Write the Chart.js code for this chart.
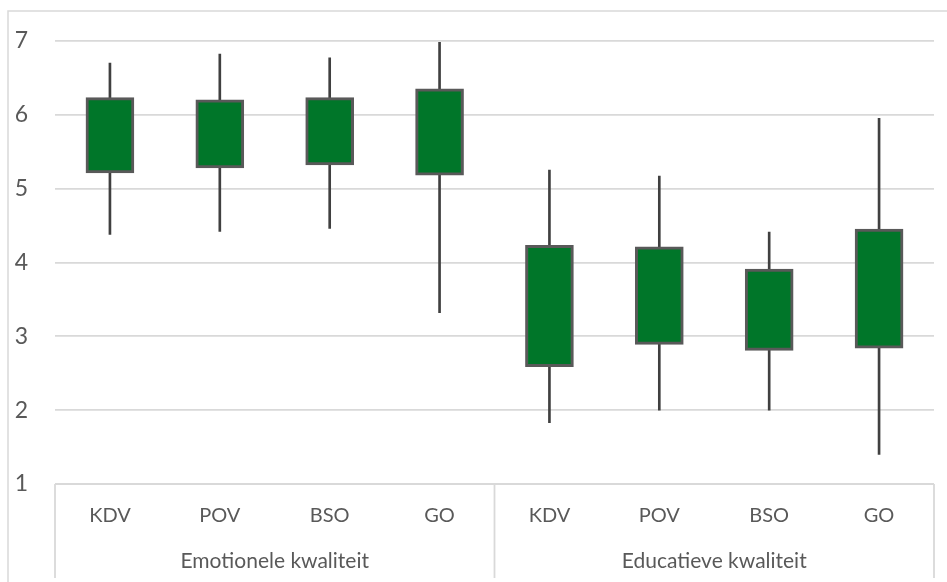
<!DOCTYPE html>
<html>
<head>
<meta charset="utf-8">
<script src="https://cdn.jsdelivr.net/npm/chart.js@4.4.0/dist/chart.umd.min.js"></script>
<style>
  html, body { margin: 0; padding: 0; background: #fff; }
  #wrap { width: 947px; height: 582px; position: relative; }
</style>
</head>
<body>
<div id="wrap"><canvas id="myChart" width="947" height="582"></canvas></div>
<script>
const categories = ['KDV', 'POV', 'BSO', 'GO', 'KDV', 'POV', 'BSO', 'GO'];
const groups = ['Emotionele kwaliteit', 'Educatieve kwaliteit'];
const minValues = [4.38, 4.42, 4.46, 3.32, 1.83, 2.00, 2.00, 1.40];
const q1Values  = [5.21, 5.28, 5.32, 5.18, 2.59, 2.89, 2.81, 2.84];
const q3Values  = [6.23, 6.20, 6.23, 6.35, 4.23, 4.21, 3.91, 4.45];
const maxValues = [6.70, 6.82, 6.77, 6.98, 5.25, 5.17, 4.41, 5.95];
const yTicks = [1, 2, 3, 4, 5, 6, 7];

const boxData = [];
const whiskerData = [];
for (let i = 0; i < categories.length; i++) {
    boxData.push([q1Values[i], q3Values[i]]);
    whiskerData.push([minValues[i], maxValues[i]]);
}

const lineGray = '#d9d9d9';
const textGray = '#595959';

// outer chart border + group separator lines under the axis
const framePlugin = {
    id: 'frame',
    beforeDraw(chart) {
        const c = chart.ctx;
        c.save();
        c.strokeStyle = lineGray;
        c.lineWidth = 1.5;
        c.strokeRect(8, 11, 1000, 1000);
        c.restore();
    },
    afterDraw(chart) {
        const x = chart.scales.x;
        const x2 = chart.scales.x2;
        const c = chart.ctx;
        const mid = (x.getPixelForValue(3) + x.getPixelForValue(4)) / 2;
        const top = chart.chartArea.bottom;
        const bottom = x2.bottom - 4;
        c.save();
        c.strokeStyle = lineGray;
        c.lineWidth = 1.8;
        c.beginPath();
        [x.left, mid, x.right].forEach(px => {
            c.moveTo(px, top);
            c.lineTo(px, bottom);
        });
        c.moveTo(x.left, top);
        c.lineTo(x.right, top);
        c.stroke();
        c.restore();
    }
};

const ctx = document.getElementById('myChart').getContext('2d');
new Chart(ctx, {
    type: 'bar',
    data: {
        labels: categories,
        datasets: [
            {
                label: 'box',
                data: boxData,
                backgroundColor: '#007629',
                borderColor: '#595959',
                borderWidth: 3,
                borderSkipped: false,
                barThickness: 48,
                grouped: false,
                order: 1
            },
            {
                label: 'whisker',
                data: whiskerData,
                backgroundColor: '#404040',
                borderWidth: 0,
                barThickness: 2,
                grouped: false,
                order: 2
            }
        ]
    },
    options: {
        responsive: false,
        animation: false,
        layout: { padding: { top: 40, right: 13, bottom: 0, left: 0 } },
        plugins: {
            legend: { display: false },
            tooltip: { enabled: false }
        },
        scales: {
            y: {
                min: 1,
                max: 7,
                afterBuildTicks: scale => { scale.ticks = yTicks.map(v => ({ value: v })); },
                afterFit: scale => { scale.width = 55; },
                ticks: {
                    color: textGray,
                    padding: 27,
                    font: { family: 'Lato', size: 23 }
                },
                grid: { color: lineGray, lineWidth: 1.8, drawTicks: false },
                border: { display: false }
            },
            x: {
                offset: true,
                afterFit: scale => { scale.height = 58; },
                ticks: {
                    color: textGray,
                    padding: 20,
                    maxRotation: 0,
                    autoSkip: false,
                    font: { family: 'Lato', size: 20 }
                },
                grid: { display: false, drawTicks: false },
                border: { display: false }
            },
            x2: {
                type: 'category',
                position: 'bottom',
                labels: groups,
                offset: true,
                afterFit: scale => { scale.height = 40; },
                ticks: {
                    color: textGray,
                    padding: 7,
                    maxRotation: 0,
                    font: { family: 'Lato', size: 21 }
                },
                grid: { display: false, drawTicks: false },
                border: { display: false }
            }
        }
    },
    plugins: [framePlugin]
});
</script>
</body>
</html>
